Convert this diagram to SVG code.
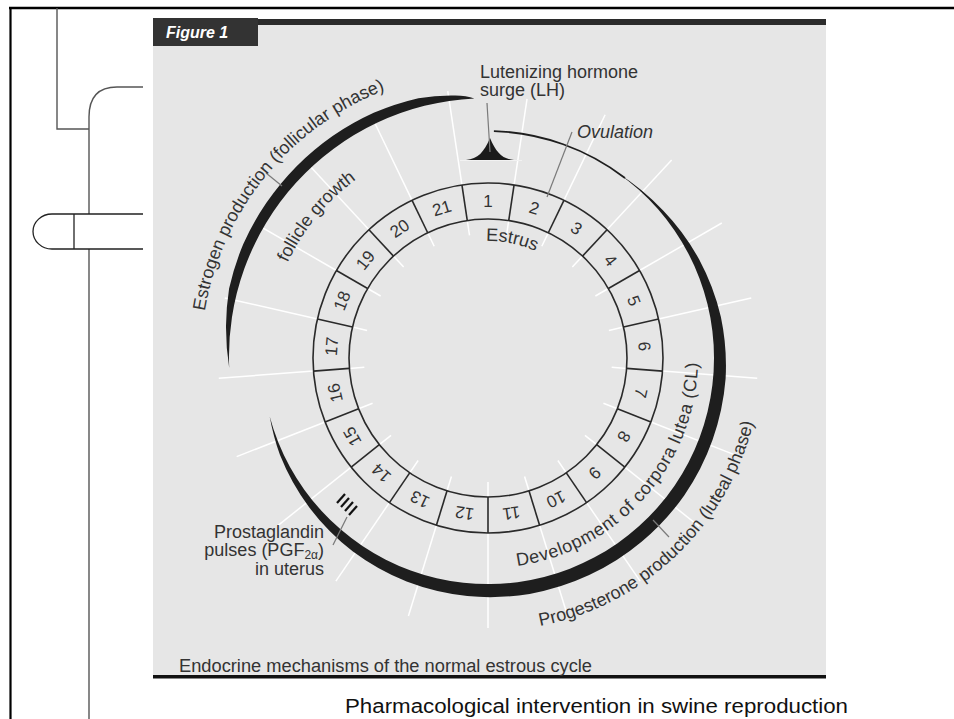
<svg xmlns="http://www.w3.org/2000/svg" xmlns:xlink="http://www.w3.org/1999/xlink" width="954" height="719" viewBox="0 0 954 719">
<style>
.ring{fill:none;stroke:#2a2a2a;stroke-width:1.6}
.dv{stroke:#2a2a2a;stroke-width:1.6}
.wl{stroke:#ffffff;stroke-width:1.5}
.num{font-family:"Liberation Sans",Arial,sans-serif;font-size:17px;fill:#333;text-anchor:middle}
.lbl{font-family:"Liberation Sans",Arial,sans-serif;font-size:18px;fill:#333}
.lead{stroke:#7a7a7a;stroke-width:1.2;fill:none}
.band{fill:#1e1e1e}
.conn{fill:none;stroke:#555;stroke-width:1.4}
</style>
<defs>
<line id="dv" class="dv" x1="488" y1="219" x2="488" y2="183"/>
<line id="wo" class="wl" x1="488" y1="183" x2="488" y2="88"/>
<line id="wi" class="wl" x1="488" y1="219" x2="488" y2="234"/>
<path id="pE" d="M204.9,311.1 A287,287 0 0 1 413.7,80.8"/>
<path id="pF" d="M287.5,262.8 A222,222 0 0 1 377,165.7"/>
<path id="pS" d="M486,241 A117,117 0 0 1 563.2,268.4"/>
<path id="pD" d="M517.2,566 A210,210 0 0 0 694.8,321.5"/>
<path id="pP" d="M540.1,626 A273,273 0 0 0 760,381.8"/>
</defs>
<rect width="954" height="719" fill="#ffffff"/>
<g id="frame">
<line x1="9" y1="8" x2="954" y2="8" stroke="#000" stroke-width="2.5"/>
<line x1="10.5" y1="7" x2="10.5" y2="719" stroke="#000" stroke-width="2.2"/>
</g>
<g id="connectors">
<path class="conn" d="M57,8 V129 H89"/>
<path class="conn" d="M143,87 H117 Q89,87 89,117 V214"/>
<path class="conn" d="M89,249 V719"/>
<path fill="none" stroke="#222" stroke-width="1.3" d="M143,214 H52 A19,17.5 0 0 0 52,249 H143"/>
<line x1="74" y1="214" x2="74" y2="249" stroke="#222" stroke-width="1.3"/>
</g>
<g id="panel">
<rect x="153" y="19" width="673" height="657" fill="#e6e6e6"/>
<rect x="153" y="19" width="673" height="6" fill="#2b2b2b"/>
<rect x="153" y="18" width="105" height="28" fill="#333"/>
<text x="166" y="38" font-family="Liberation Sans,Arial,sans-serif" font-size="16" font-weight="bold" font-style="italic" fill="#fff">Figure 1</text>
<rect x="153" y="675" width="673" height="3.5" fill="#111"/>
<text x="179" y="672" class="lbl" font-size="17" textLength="413" lengthAdjust="spacingAndGlyphs">Endocrine mechanisms of the normal estrous cycle</text>
</g>
<g id="rays">
<use href="#wo" transform="rotate(-8.571 488 358)"/>
<line class="wl" x1="488" y1="183" x2="488" y2="96" transform="rotate(8.571 488 358)"/>
<use href="#wo" transform="rotate(25.714 488 358)"/>
<use href="#wo" transform="rotate(42.857 488 358)"/>
<use href="#wo" transform="rotate(60 488 358)"/>
<use href="#wo" transform="rotate(77.143 488 358)"/>
<use href="#wo" transform="rotate(94.286 488 358)"/>
<use href="#wo" transform="rotate(111.429 488 358)"/>
<use href="#wo" transform="rotate(128.571 488 358)"/>
<use href="#wo" transform="rotate(145.714 488 358)"/>
<use href="#wo" transform="rotate(162.857 488 358)"/>
<use href="#wo" transform="rotate(180 488 358)"/>
<use href="#wo" transform="rotate(197.143 488 358)"/>
<use href="#wo" transform="rotate(214.286 488 358)"/>
<use href="#wo" transform="rotate(231.429 488 358)"/>
<use href="#wo" transform="rotate(248.571 488 358)"/>
<use href="#wo" transform="rotate(265.714 488 358)"/>
<use href="#wo" transform="rotate(282.857 488 358)"/>
<use href="#wo" transform="rotate(300 488 358)"/>
<use href="#wo" transform="rotate(317.143 488 358)"/>
<use href="#wo" transform="rotate(334.286 488 358)"/>
<use href="#wi" transform="rotate(8.571 488 358)"/>
<use href="#wi" transform="rotate(25.714 488 358)"/>
<use href="#wi" transform="rotate(42.857 488 358)"/>
<use href="#wi" transform="rotate(60 488 358)"/>
<use href="#wi" transform="rotate(77.143 488 358)"/>
<use href="#wi" transform="rotate(94.286 488 358)"/>
<use href="#wi" transform="rotate(111.429 488 358)"/>
<use href="#wi" transform="rotate(128.571 488 358)"/>
<use href="#wi" transform="rotate(145.714 488 358)"/>
<use href="#wi" transform="rotate(162.857 488 358)"/>
<use href="#wi" transform="rotate(180 488 358)"/>
<use href="#wi" transform="rotate(197.143 488 358)"/>
<use href="#wi" transform="rotate(214.286 488 358)"/>
<use href="#wi" transform="rotate(231.429 488 358)"/>
<use href="#wi" transform="rotate(248.571 488 358)"/>
<use href="#wi" transform="rotate(265.714 488 358)"/>
<use href="#wi" transform="rotate(282.857 488 358)"/>
<use href="#wi" transform="rotate(300 488 358)"/>
<use href="#wi" transform="rotate(317.143 488 358)"/>
<use href="#wi" transform="rotate(334.286 488 358)"/>
<use href="#wi" transform="rotate(351.429 488 358)"/>
</g>
<g id="ring">
<circle class="ring" cx="488" cy="358" r="175"/>
<circle class="ring" cx="488" cy="358" r="139"/>
<use href="#dv" transform="rotate(8.571 488 358)"/>
<use href="#dv" transform="rotate(25.714 488 358)"/>
<use href="#dv" transform="rotate(42.857 488 358)"/>
<use href="#dv" transform="rotate(60 488 358)"/>
<use href="#dv" transform="rotate(77.143 488 358)"/>
<use href="#dv" transform="rotate(94.286 488 358)"/>
<use href="#dv" transform="rotate(111.429 488 358)"/>
<use href="#dv" transform="rotate(128.571 488 358)"/>
<use href="#dv" transform="rotate(145.714 488 358)"/>
<use href="#dv" transform="rotate(162.857 488 358)"/>
<use href="#dv" transform="rotate(180 488 358)"/>
<use href="#dv" transform="rotate(197.143 488 358)"/>
<use href="#dv" transform="rotate(214.286 488 358)"/>
<use href="#dv" transform="rotate(231.429 488 358)"/>
<use href="#dv" transform="rotate(248.571 488 358)"/>
<use href="#dv" transform="rotate(265.714 488 358)"/>
<use href="#dv" transform="rotate(282.857 488 358)"/>
<use href="#dv" transform="rotate(300 488 358)"/>
<use href="#dv" transform="rotate(317.143 488 358)"/>
<use href="#dv" transform="rotate(334.286 488 358)"/>
<use href="#dv" transform="rotate(351.429 488 358)"/>
</g>
<g id="days">
<text class="num" x="488" y="207">1</text>
<text class="num" x="488" y="207" transform="rotate(17.143 488 358)">2</text>
<text class="num" x="488" y="207" transform="rotate(34.286 488 358)">3</text>
<text class="num" x="488" y="207" transform="rotate(51.429 488 358)">4</text>
<text class="num" x="488" y="207" transform="rotate(68.571 488 358)">5</text>
<text class="num" x="488" y="207" transform="rotate(85.714 488 358)">6</text>
<text class="num" x="488" y="207" transform="rotate(102.857 488 358)">7</text>
<text class="num" x="488" y="207" transform="rotate(120 488 358)">8</text>
<text class="num" x="488" y="207" transform="rotate(137.143 488 358)">9</text>
<text class="num" x="488" y="207" transform="rotate(154.286 488 358)">10</text>
<text class="num" x="488" y="207" transform="rotate(171.429 488 358)">11</text>
<text class="num" x="488" y="207" transform="rotate(188.571 488 358)">12</text>
<text class="num" x="488" y="207" transform="rotate(205.714 488 358)">13</text>
<text class="num" x="488" y="207" transform="rotate(222.857 488 358)">14</text>
<text class="num" x="488" y="207" transform="rotate(240 488 358)">15</text>
<text class="num" x="488" y="207" transform="rotate(257.143 488 358)">16</text>
<text class="num" x="488" y="207" transform="rotate(274.286 488 358)">17</text>
<text class="num" x="488" y="207" transform="rotate(291.429 488 358)">18</text>
<text class="num" x="488" y="207" transform="rotate(308.571 488 358)">19</text>
<text class="num" x="488" y="207" transform="rotate(325.714 488 358)">20</text>
<text class="num" x="488" y="207" transform="rotate(342.857 488 358)">21</text>
</g>
<g id="estrogen">
<path class="band" d="M474.4,98.4 Q465,95 451.1,95.6 A267,267 0 0 0 418.4,98.2 A270,270 0 0 0 373.7,112.8 A271,271 0 0 0 332.6,136 A271,271 0 0 0 296.4,166.4 A271,271 0 0 0 266.4,202.8 A270,270 0 0 0 243.3,243.9 A269,269 0 0 0 229.1,288.6 A266,266 0 0 0 226,325.8 A261,261 0 0 0 229.2,367.9 A258.5,258.5 0 0 1 474.4,98.4 Z"/>
<line class="lead" x1="266" y1="173" x2="282" y2="186"/>
<text class="lbl"><textPath href="#pE">Estrogen production (follicular phase)</textPath></text>
<text class="lbl" font-size="17"><textPath href="#pF">follicle growth</textPath></text>
</g>
<g id="progesterone">
<path fill="none" stroke="#1e1e1e" stroke-width="1.8" d="M493.9,131.1 A226.8,226.8 0 0 1 625,178"/>
<path class="band" d="M617.6,172.9 A227.5,227.5 0 0 1 663.4,210.8 A231,231 0 0 1 699.2,259.5 A235,235 0 0 1 720.9,316.9 A237.5,237.5 0 0 1 725.6,378.8 A239,239 0 0 1 712.6,439.7 A239.5,239.5 0 0 1 684.2,495.4 A239.5,239.5 0 0 1 641.9,541.5 A239.5,239.5 0 0 1 589.2,575.1 A239.5,239.5 0 0 1 529.6,593.9 A239,239 0 0 1 467.2,596.1 A238.5,238.5 0 0 1 406.6,581.6 A237,237 0 0 1 352.6,551.3 A234.5,234.5 0 0 1 309.5,507.8 A231,231 0 0 1 280,455 A228,228 0 0 1 269.7,416.5 A226,226 0 1 0 617.6,172.9 Z"/>
<line class="lead" x1="653" y1="520" x2="669" y2="537"/>
<text class="lbl" letter-spacing="0.6"><textPath href="#pD">Development of corpora lutea (CL)</textPath></text>
<text class="lbl"><textPath href="#pP">Progesterone production (luteal phase)</textPath></text>
</g>
<g id="lh">
<line x1="460" y1="160.5" x2="522" y2="160.5" stroke="#f2f2f2" stroke-width="1"/>
<path fill="#1a1a1a" d="M466,160 C478,159 484,152 490,138 C496,152 502,159 514,160 Z"/>
<line class="lead" x1="487" y1="103" x2="490" y2="152"/>
<text class="lbl" x="480" y="78">Lutenizing hormone</text>
<text class="lbl" x="480" y="96">surge (LH)</text>
</g>
<g id="ovulation">
<line class="lead" x1="572" y1="132" x2="547" y2="197"/>
<text class="lbl" x="577" y="138" font-style="italic">Ovulation</text>
</g>
<g id="estrus">
<text class="lbl"><textPath href="#pS">Estrus</textPath></text>
</g>
<g id="prostaglandin">
<g stroke="#111" stroke-width="2.2">
<line x1="345" y1="494" x2="337" y2="503"/>
<line x1="349" y1="498" x2="341" y2="507"/>
<line x1="353" y1="502" x2="345" y2="511"/>
<line x1="357" y1="506" x2="349" y2="515"/>
</g>
<line class="lead" x1="333" y1="545" x2="347" y2="517"/>
<text class="lbl" x="324" y="538" text-anchor="end">Prostaglandin</text>
<text class="lbl" x="324" y="556" text-anchor="end">pulses (PGF<tspan font-size="12" dy="3">2α</tspan><tspan dy="-3">)</tspan></text>
<text class="lbl" x="324" y="575" text-anchor="end">in uterus</text>
</g>
<text x="345" y="713" font-family="Liberation Sans,Arial,sans-serif" font-size="20" fill="#111" textLength="503" lengthAdjust="spacingAndGlyphs">Pharmacological intervention in swine reproduction</text>
</svg>
